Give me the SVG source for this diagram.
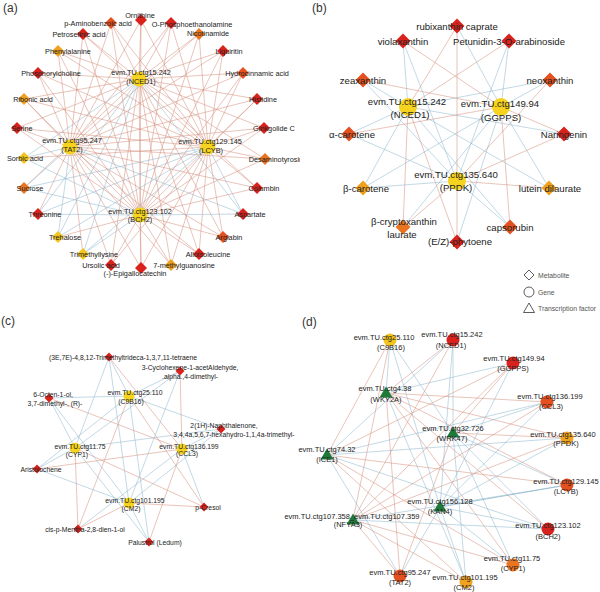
<svg xmlns="http://www.w3.org/2000/svg" width="600" height="592" viewBox="0 0 600 592">
<style>
.r{stroke:#d68f7c;stroke-width:0.7;opacity:0.75}
.b{stroke:#8db7cf;stroke-width:0.7;opacity:0.75}
text{font-family:"Liberation Sans",Arial,sans-serif;fill:#222;text-anchor:middle;dominant-baseline:central}
.ta{font-size:7.3px}.tb{font-size:9.6px}.tc{font-size:6.8px}.td{font-size:7.5px}
.pl{font-size:12px;fill:#333;text-anchor:start}
.lg{font-size:6.8px;fill:#555;text-anchor:start}
.c1{fill:#d9221c}.c2{fill:#e4501e}.c3{fill:#ea7420}.c4{fill:#f0a21f}.c5{fill:#f3c41c}.gy{fill:#f5d31e}.tf{fill:#1f7a3a}
</style>
<defs><clipPath id="clipA"><rect x="0" y="0" width="300" height="296"/></clipPath></defs>
<rect width="600" height="592" fill="#fff"/>
<text class="pl" x="3" y="8">(a)</text>
<text class="pl" x="312" y="8">(b)</text>
<text class="pl" x="1" y="321">(c)</text>
<text class="pl" x="302" y="322">(d)</text>
<g id="connectors">
<g id="edges-a">
<line class="r" x1="139" y1="79" x2="141" y2="20"/><line class="r" x1="139" y1="79" x2="111" y2="23"/><line class="r" x1="139" y1="79" x2="171" y2="23"/><line class="r" x1="139" y1="79" x2="83" y2="34"/><line class="r" x1="139" y1="79" x2="199" y2="34"/><line class="r" x1="139" y1="79" x2="58" y2="51"/><line class="r" x1="139" y1="79" x2="223" y2="51"/><line class="r" x1="139" y1="79" x2="38" y2="73"/><line class="r" x1="139" y1="79" x2="243" y2="73"/><line class="r" x1="139" y1="79" x2="24" y2="99"/><line class="r" x1="139" y1="79" x2="257" y2="99"/><line class="r" x1="139" y1="79" x2="17" y2="128"/><line class="r" x1="139" y1="79" x2="264" y2="128"/><line class="b" x1="139" y1="79" x2="24" y2="158"/><line class="r" x1="139" y1="79" x2="265" y2="159"/><line class="r" x1="139" y1="79" x2="24" y2="188"/><line class="r" x1="139" y1="79" x2="257" y2="188"/><line class="b" x1="139" y1="79" x2="38" y2="214"/><line class="b" x1="139" y1="79" x2="243" y2="214"/><line class="b" x1="139" y1="79" x2="58" y2="237"/><line class="r" x1="139" y1="79" x2="223" y2="237"/><line class="b" x1="139" y1="79" x2="83" y2="254"/><line class="r" x1="139" y1="79" x2="199" y2="254"/><line class="r" x1="139" y1="79" x2="111" y2="265"/><line class="r" x1="139" y1="79" x2="171" y2="265"/><line class="r" x1="139" y1="79" x2="141" y2="268"/>
<line class="r" x1="70" y1="147" x2="141" y2="20"/><line class="r" x1="70" y1="147" x2="111" y2="23"/><line class="r" x1="70" y1="147" x2="171" y2="23"/><line class="r" x1="70" y1="147" x2="83" y2="34"/><line class="r" x1="70" y1="147" x2="199" y2="34"/><line class="r" x1="70" y1="147" x2="58" y2="51"/><line class="r" x1="70" y1="147" x2="223" y2="51"/><line class="r" x1="70" y1="147" x2="38" y2="73"/><line class="r" x1="70" y1="147" x2="243" y2="73"/><line class="r" x1="70" y1="147" x2="24" y2="99"/><line class="r" x1="70" y1="147" x2="257" y2="99"/><line class="r" x1="70" y1="147" x2="17" y2="128"/><line class="r" x1="70" y1="147" x2="264" y2="128"/><line class="b" x1="70" y1="147" x2="24" y2="158"/><line class="r" x1="70" y1="147" x2="265" y2="159"/><line class="b" x1="70" y1="147" x2="24" y2="188"/><line class="r" x1="70" y1="147" x2="257" y2="188"/><line class="r" x1="70" y1="147" x2="38" y2="214"/><line class="b" x1="70" y1="147" x2="243" y2="214"/><line class="b" x1="70" y1="147" x2="58" y2="237"/><line class="r" x1="70" y1="147" x2="223" y2="237"/><line class="r" x1="70" y1="147" x2="83" y2="254"/><line class="r" x1="70" y1="147" x2="199" y2="254"/><line class="r" x1="70" y1="147" x2="111" y2="265"/><line class="r" x1="70" y1="147" x2="171" y2="265"/><line class="r" x1="70" y1="147" x2="141" y2="268"/>
<line class="r" x1="208" y1="147" x2="141" y2="20"/><line class="r" x1="208" y1="147" x2="111" y2="23"/><line class="r" x1="208" y1="147" x2="171" y2="23"/><line class="r" x1="208" y1="147" x2="83" y2="34"/><line class="r" x1="208" y1="147" x2="199" y2="34"/><line class="r" x1="208" y1="147" x2="58" y2="51"/><line class="r" x1="208" y1="147" x2="223" y2="51"/><line class="r" x1="208" y1="147" x2="38" y2="73"/><line class="r" x1="208" y1="147" x2="243" y2="73"/><line class="r" x1="208" y1="147" x2="24" y2="99"/><line class="r" x1="208" y1="147" x2="257" y2="99"/><line class="r" x1="208" y1="147" x2="17" y2="128"/><line class="r" x1="208" y1="147" x2="264" y2="128"/><line class="r" x1="208" y1="147" x2="24" y2="158"/><line class="r" x1="208" y1="147" x2="265" y2="159"/><line class="b" x1="208" y1="147" x2="24" y2="188"/><line class="r" x1="208" y1="147" x2="257" y2="188"/><line class="b" x1="208" y1="147" x2="38" y2="214"/><line class="b" x1="208" y1="147" x2="243" y2="214"/><line class="b" x1="208" y1="147" x2="58" y2="237"/><line class="r" x1="208" y1="147" x2="223" y2="237"/><line class="b" x1="208" y1="147" x2="83" y2="254"/><line class="r" x1="208" y1="147" x2="199" y2="254"/><line class="r" x1="208" y1="147" x2="111" y2="265"/><line class="r" x1="208" y1="147" x2="171" y2="265"/><line class="r" x1="208" y1="147" x2="141" y2="268"/>
<line class="r" x1="140" y1="215" x2="141" y2="20"/><line class="r" x1="140" y1="215" x2="111" y2="23"/><line class="r" x1="140" y1="215" x2="171" y2="23"/><line class="r" x1="140" y1="215" x2="83" y2="34"/><line class="r" x1="140" y1="215" x2="199" y2="34"/><line class="r" x1="140" y1="215" x2="58" y2="51"/><line class="r" x1="140" y1="215" x2="223" y2="51"/><line class="r" x1="140" y1="215" x2="38" y2="73"/><line class="r" x1="140" y1="215" x2="243" y2="73"/><line class="r" x1="140" y1="215" x2="24" y2="99"/><line class="r" x1="140" y1="215" x2="257" y2="99"/><line class="r" x1="140" y1="215" x2="17" y2="128"/><line class="r" x1="140" y1="215" x2="264" y2="128"/><line class="b" x1="140" y1="215" x2="24" y2="158"/><line class="r" x1="140" y1="215" x2="265" y2="159"/><line class="b" x1="140" y1="215" x2="24" y2="188"/><line class="r" x1="140" y1="215" x2="257" y2="188"/><line class="b" x1="140" y1="215" x2="38" y2="214"/><line class="b" x1="140" y1="215" x2="243" y2="214"/><line class="r" x1="140" y1="215" x2="58" y2="237"/><line class="r" x1="140" y1="215" x2="223" y2="237"/><line class="b" x1="140" y1="215" x2="83" y2="254"/><line class="r" x1="140" y1="215" x2="199" y2="254"/><line class="r" x1="140" y1="215" x2="111" y2="265"/><line class="r" x1="140" y1="215" x2="171" y2="265"/><line class="r" x1="140" y1="215" x2="141" y2="268"/>
</g>
<g id="edges-b">
<line class="r" x1="408" y1="107" x2="457" y2="26"/><line class="b" x1="408" y1="107" x2="403" y2="41"/><line class="r" x1="408" y1="107" x2="509" y2="41"/><line class="b" x1="408" y1="107" x2="363" y2="80"/><line class="b" x1="408" y1="107" x2="550" y2="80"/><line class="b" x1="408" y1="107" x2="349" y2="134"/><line class="b" x1="408" y1="107" x2="564" y2="134"/><line class="b" x1="408" y1="107" x2="363" y2="188"/><line class="b" x1="408" y1="107" x2="549" y2="188"/><line class="r" x1="408" y1="107" x2="403" y2="227"/><line class="b" x1="408" y1="107" x2="510" y2="227"/><line class="r" x1="408" y1="107" x2="457" y2="242"/>
<line class="b" x1="501" y1="107" x2="457" y2="26"/><line class="r" x1="501" y1="107" x2="403" y2="41"/><line class="b" x1="501" y1="107" x2="509" y2="41"/><line class="r" x1="501" y1="107" x2="363" y2="80"/><line class="b" x1="501" y1="107" x2="550" y2="80"/><line class="r" x1="501" y1="107" x2="349" y2="134"/><line class="r" x1="501" y1="107" x2="564" y2="134"/><line class="b" x1="501" y1="107" x2="363" y2="188"/><line class="b" x1="501" y1="107" x2="549" y2="188"/><line class="b" x1="501" y1="107" x2="403" y2="227"/><line class="r" x1="501" y1="107" x2="510" y2="227"/><line class="b" x1="501" y1="107" x2="457" y2="242"/>
<line class="r" x1="457" y1="181" x2="457" y2="26"/><line class="b" x1="457" y1="181" x2="403" y2="41"/><line class="b" x1="457" y1="181" x2="509" y2="41"/><line class="b" x1="457" y1="181" x2="363" y2="80"/><line class="r" x1="457" y1="181" x2="550" y2="80"/><line class="b" x1="457" y1="181" x2="349" y2="134"/><line class="r" x1="457" y1="181" x2="564" y2="134"/><line class="b" x1="457" y1="181" x2="363" y2="188"/><line class="r" x1="457" y1="181" x2="549" y2="188"/><line class="r" x1="457" y1="181" x2="403" y2="227"/><line class="b" x1="457" y1="181" x2="510" y2="227"/><line class="r" x1="457" y1="181" x2="457" y2="242"/>
</g>
<g id="edges-c">
<line class="b" x1="129" y1="396" x2="109" y2="357"/><line class="b" x1="129" y1="396" x2="180" y2="371"/><line class="b" x1="129" y1="396" x2="49" y2="398"/><line class="b" x1="129" y1="396" x2="221" y2="429"/><line class="b" x1="129" y1="396" x2="37" y2="469"/><line class="r" x1="129" y1="396" x2="204" y2="507"/><line class="r" x1="129" y1="396" x2="78" y2="529"/><line class="b" x1="129" y1="396" x2="149" y2="542"/>
<line class="b" x1="75" y1="448" x2="109" y2="357"/><line class="b" x1="75" y1="448" x2="180" y2="371"/><line class="b" x1="75" y1="448" x2="49" y2="398"/><line class="b" x1="75" y1="448" x2="221" y2="429"/><line class="b" x1="75" y1="448" x2="37" y2="469"/><line class="r" x1="75" y1="448" x2="204" y2="507"/><line class="r" x1="75" y1="448" x2="78" y2="529"/><line class="b" x1="75" y1="448" x2="149" y2="542"/>
<line class="r" x1="182" y1="449" x2="109" y2="357"/><line class="r" x1="182" y1="449" x2="180" y2="371"/><line class="r" x1="182" y1="449" x2="49" y2="398"/><line class="b" x1="182" y1="449" x2="221" y2="429"/><line class="r" x1="182" y1="449" x2="37" y2="469"/><line class="b" x1="182" y1="449" x2="204" y2="507"/><line class="b" x1="182" y1="449" x2="78" y2="529"/><line class="r" x1="182" y1="449" x2="149" y2="542"/>
<line class="b" x1="129" y1="503" x2="109" y2="357"/><line class="b" x1="129" y1="503" x2="180" y2="371"/><line class="b" x1="129" y1="503" x2="49" y2="398"/><line class="b" x1="129" y1="503" x2="221" y2="429"/><line class="b" x1="129" y1="503" x2="37" y2="469"/><line class="r" x1="129" y1="503" x2="204" y2="507"/><line class="r" x1="129" y1="503" x2="78" y2="529"/><line class="b" x1="129" y1="503" x2="149" y2="542"/>
</g>
<g id="edges-d">
<line class="b" x1="386" y1="393" x2="390" y2="340"/><line class="r" x1="386" y1="393" x2="453" y2="340"/><line class="b" x1="386" y1="393" x2="513" y2="363"/><line class="r" x1="386" y1="393" x2="547" y2="402"/><line class="r" x1="386" y1="393" x2="567" y2="438"/><line class="r" x1="386" y1="393" x2="567" y2="485"/><line class="r" x1="386" y1="393" x2="548" y2="529"/><line class="r" x1="386" y1="393" x2="513" y2="565"/><line class="r" x1="386" y1="393" x2="400" y2="576"/><line class="b" x1="386" y1="393" x2="466" y2="582"/>
<line class="b" x1="453" y1="433" x2="390" y2="340"/><line class="b" x1="453" y1="433" x2="453" y2="340"/><line class="r" x1="453" y1="433" x2="513" y2="363"/><line class="b" x1="453" y1="433" x2="547" y2="402"/><line class="r" x1="453" y1="433" x2="567" y2="438"/><line class="b" x1="453" y1="433" x2="567" y2="485"/><line class="b" x1="453" y1="433" x2="548" y2="529"/><line class="b" x1="453" y1="433" x2="513" y2="565"/><line class="r" x1="453" y1="433" x2="400" y2="576"/><line class="b" x1="453" y1="433" x2="466" y2="582"/>
<line class="r" x1="327" y1="455" x2="390" y2="340"/><line class="b" x1="327" y1="455" x2="453" y2="340"/><line class="r" x1="327" y1="455" x2="513" y2="363"/><line class="b" x1="327" y1="455" x2="547" y2="402"/><line class="b" x1="327" y1="455" x2="567" y2="438"/><line class="r" x1="327" y1="455" x2="567" y2="485"/><line class="b" x1="327" y1="455" x2="548" y2="529"/><line class="r" x1="327" y1="455" x2="513" y2="565"/><line class="b" x1="327" y1="455" x2="400" y2="576"/><line class="r" x1="327" y1="455" x2="466" y2="582"/>
<line class="b" x1="440" y1="507" x2="390" y2="340"/><line class="b" x1="440" y1="507" x2="453" y2="340"/><line class="b" x1="440" y1="507" x2="513" y2="363"/><line class="b" x1="440" y1="507" x2="547" y2="402"/><line class="b" x1="440" y1="507" x2="567" y2="438"/><line class="b" x1="440" y1="507" x2="567" y2="485" style="stroke:#5f94b5"/><line class="b" x1="440" y1="507" x2="548" y2="529"/><line class="b" x1="440" y1="507" x2="513" y2="565"/><line class="b" x1="440" y1="507" x2="400" y2="576"/><line class="b" x1="440" y1="507" x2="466" y2="582"/>
<line class="r" x1="353" y1="520" x2="390" y2="340"/><line class="r" x1="353" y1="520" x2="453" y2="340"/><line class="r" x1="353" y1="520" x2="513" y2="363"/><line class="r" x1="353" y1="520" x2="547" y2="402"/><line class="r" x1="353" y1="520" x2="567" y2="438"/><line class="b" x1="353" y1="520" x2="567" y2="485"/><line class="b" x1="353" y1="520" x2="548" y2="529"/><line class="r" x1="353" y1="520" x2="513" y2="565"/><line class="r" x1="353" y1="520" x2="400" y2="576"/><line class="r" x1="353" y1="520" x2="466" y2="582"/>
</g>
</g>
<g id="panel-a" clip-path="url(#clipA)">
<g id="a-ornithine"><path class="c1" d="M141 14l6 6-6 6-6-6z"/><text class="ta" x="140" y="15">Ornithine</text></g>
<g id="a-paminobenzoic"><path class="c2" d="M111 17l6 6-6 6-6-6z"/><text class="ta" x="98" y="23">p-Aminobenzoic acid</text></g>
<g id="a-ophospho"><path class="c1" d="M171 17l6 6-6 6-6-6z"/><text class="ta" x="192" y="24">O-Phosphoethanolamine</text></g>
<g id="a-petroselinic"><path class="c1" d="M83 28l6 6-6 6-6-6z"/><text class="ta" x="79" y="34">Petroselinic acid</text></g>
<g id="a-nicotinamide"><path class="c3" d="M199 28l6 6-6 6-6-6z"/><text class="ta" x="208" y="33">Nicotinamide</text></g>
<g id="a-phenylalanine"><path class="c4" d="M58 45l6 6-6 6-6-6z"/><text class="ta" x="68" y="51">Phenylalanine</text></g>
<g id="a-liquiritin"><path class="c1" d="M223 45l6 6-6 6-6-6z"/><text class="ta" x="229" y="51">Liquiritin</text></g>
<g id="a-phosphorylcholine"><path class="c1" d="M38 67l6 6-6 6-6-6z"/><text class="ta" x="51" y="73">Phosphorylcholine</text></g>
<g id="a-hydrocinnamic"><path class="c2" d="M243 67l6 6-6 6-6-6z"/><text class="ta" x="257" y="73">Hydrocinnamic acid</text></g>
<g id="a-ribonic"><path class="c4" d="M24 93l6 6-6 6-6-6z"/><text class="ta" x="33" y="99">Ribonic acid</text></g>
<g id="a-histidine"><path class="c1" d="M257 93l6 6-6 6-6-6z"/><text class="ta" x="263" y="99">Histidine</text></g>
<g id="a-serine"><path class="c1" d="M17 122l6 6-6 6-6-6z"/><text class="ta" x="22" y="128">Serine</text></g>
<g id="a-ginkgolide"><path class="c1" d="M264 122l6 6-6 6-6-6z"/><text class="ta" x="274" y="128">Ginkgolide C</text></g>
<g id="a-sorbic"><path class="c5" d="M24 152l6 6-6 6-6-6z"/><text class="ta" x="25" y="158">Sorbic acid</text></g>
<g id="a-desaminotyrosine"><path class="c3" d="M265 153l6 6-6 6-6-6z"/><text class="ta" x="278" y="159">Desaminotyrosine</text></g>
<g id="a-sucrose"><path class="c3" d="M24 182l6 6-6 6-6-6z"/><text class="ta" x="30" y="188">Sucrose</text></g>
<g id="a-columbin"><path class="c1" d="M257 182l6 6-6 6-6-6z"/><text class="ta" x="264" y="188">Columbin</text></g>
<g id="a-threonine"><path class="c1" d="M38 208l6 6-6 6-6-6z"/><text class="ta" x="45" y="214">Threonine</text></g>
<g id="a-aspartate"><path class="c1" d="M243 208l6 6-6 6-6-6z"/><text class="ta" x="250" y="214">Aspartate</text></g>
<g id="a-trehalose"><path class="c5" d="M58 231l6 6-6 6-6-6z"/><text class="ta" x="65" y="237">Trehalose</text></g>
<g id="a-arglabin"><path class="c2" d="M223 231l6 6-6 6-6-6z"/><text class="ta" x="229" y="237">Arglabin</text></g>
<g id="a-trimethyllysine"><path class="c5" d="M83 248l6 6-6 6-6-6z"/><text class="ta" x="94" y="254">Trimethyllysine</text></g>
<g id="a-alloisoleucine"><path class="c1" d="M199 248l6 6-6 6-6-6z"/><text class="ta" x="208" y="254">Alloisoleucine</text></g>
<g id="a-ursolic"><path class="c1" d="M111 259l6 6-6 6-6-6z"/><text class="ta" x="101" y="265">Ursolic acid</text></g>
<g id="a-methylguanosine"><path class="c4" d="M171 259l6 6-6 6-6-6z"/><text class="ta" x="184" y="265">7-methylguanosine</text></g>
<g id="a-epigallocatechin"><path class="c1" d="M141 262l6 6-6 6-6-6z"/><text class="ta" x="135" y="273">(-)-Epigallocatechin</text></g>
<g id="a-nced1"><circle class="gy" cx="139" cy="79" r="7.5"/><text class="ta" x="141" y="72">evm.TU.ctg15.242</text><text class="ta" x="141" y="81">(NCED1)</text></g>
<g id="a-tat2"><circle class="gy" cx="70" cy="147" r="7.5"/><text class="ta" x="72" y="140">evm.TU.ctg95.247</text><text class="ta" x="72" y="149">(TAT2)</text></g>
<g id="a-lcyb"><circle class="gy" cx="208" cy="147" r="7.5"/><text class="ta" x="210" y="141">evm.TU.ctg129.145</text><text class="ta" x="211" y="150">(LCYB)</text></g>
<g id="a-bch2"><circle class="gy" cx="140" cy="215" r="7.5"/><text class="ta" x="140" y="211">evm.TU.ctg123.102</text><text class="ta" x="140" y="219">(BCH2)</text></g>
</g>
<g id="panel-b">
<g id="b-rubixanthin"><path class="c1" d="M457 18.5l7.5 7.5-7.5 7.5-7.5-7.5z"/><text class="tb" x="457" y="26">rubixanthin caprate</text></g>
<g id="b-violaxanthin"><path class="c1" d="M403 33.5l7.5 7.5-7.5 7.5-7.5-7.5z"/><text class="tb" x="403" y="41">violaxanthin</text></g>
<g id="b-petunidin"><path class="c1" d="M509 33.5l7.5 7.5-7.5 7.5-7.5-7.5z"/><text class="tb" x="509" y="41">Petunidin-3-O-arabinoside</text></g>
<g id="b-zeaxanthin"><path class="c2" d="M363 72.5l7.5 7.5-7.5 7.5-7.5-7.5z"/><text class="tb" x="363" y="80">zeaxanthin</text></g>
<g id="b-neoxanthin"><path class="c2" d="M550 72.5l7.5 7.5-7.5 7.5-7.5-7.5z"/><text class="tb" x="550" y="80">neoxanthin</text></g>
<g id="b-acarotene"><path class="c2" d="M349 126.5l7.5 7.5-7.5 7.5-7.5-7.5z"/><text class="tb" x="352" y="134">α-carotene</text></g>
<g id="b-naringenin"><path class="c1" d="M564 126.5l7.5 7.5-7.5 7.5-7.5-7.5z"/><text class="tb" x="564" y="134">Naringenin</text></g>
<g id="b-bcarotene"><path class="c4" d="M363 180.5l7.5 7.5-7.5 7.5-7.5-7.5z"/><text class="tb" x="366" y="188">β-carotene</text></g>
<g id="b-lutein"><path class="c4" d="M549 180.5l7.5 7.5-7.5 7.5-7.5-7.5z"/><text class="tb" x="550" y="188">lutein dilaurate</text></g>
<g id="b-bcryptoxanthin"><path class="c3" d="M403 219.5l7.5 7.5-7.5 7.5-7.5-7.5z"/><text class="tb" x="404" y="221">β-cryptoxanthin</text><text class="tb" x="402" y="234">laurate</text></g>
<g id="b-capsorubin"><path class="c2" d="M510 219.5l7.5 7.5-7.5 7.5-7.5-7.5z"/><text class="tb" x="510" y="227">capsorubin</text></g>
<g id="b-phytoene"><path class="c1" d="M457 234.5l7.5 7.5-7.5 7.5-7.5-7.5z"/><text class="tb" x="460" y="241">(E/Z)-phytoene</text></g>
<g id="b-nced1"><circle class="gy" cx="408" cy="107" r="9"/><text class="tb" x="407" y="101">evm.TU.ctg15.242</text><text class="tb" x="410" y="114">(NCED1)</text></g>
<g id="b-ggpps"><circle class="gy" cx="501" cy="107" r="9"/><text class="tb" x="500" y="103">evm.TU.ctg149.94</text><text class="tb" x="501" y="117">(GGPPS)</text></g>
<g id="b-ppdk"><circle class="gy" cx="457" cy="181" r="9"/><text class="tb" x="456" y="174">evm.TU.ctg135.640</text><text class="tb" x="456" y="187">(PPDK)</text></g>
</g>
<g id="legend">
<path d="M529 270l5 5-5 5-5-5z" fill="none" stroke="#333" stroke-width="0.8"/><text class="lg" x="538" y="275">Metabolite</text>
<circle cx="529" cy="292" r="5" fill="none" stroke="#333" stroke-width="0.8"/><text class="lg" x="538" y="292">Gene</text>
<path d="M529 303l5.5 9.5h-11z" fill="none" stroke="#333" stroke-width="0.8"/><text class="lg" x="538" y="308">Transcription factor</text>
</g>
<g id="panel-c">
<g id="c-trimethyltrideca"><path class="c1" d="M109 352.5l4.5 4.5-4.5 4.5-4.5-4.5z"/><text class="tc" x="123" y="357">(3E,7E)-4,8,12-Trimethyltrideca-1,3,7,11-tetraene</text></g>
<g id="c-cyclohexene"><path class="c1" d="M180 366.5l4.5 4.5-4.5 4.5-4.5-4.5z"/><text class="tc" x="190" y="367">3-Cyclohexene-1-acetAldehyde,</text><text class="tc" x="190" y="376">.alpha.,4-dimethyl-</text></g>
<g id="c-octenol"><path class="c1" d="M49 393.5l4.5 4.5-4.5 4.5-4.5-4.5z"/><text class="tc" x="53" y="394">6-Octen-1-ol,</text><text class="tc" x="55" y="403">3,7-dimethyl-, (R)-</text></g>
<g id="c-naphthalenone"><path class="c1" d="M221 424.5l4.5 4.5-4.5 4.5-4.5-4.5z"/><text class="tc" x="224" y="425">2(1H)-Naphthalenone,</text><text class="tc" x="234" y="434">3,4,4a,5,6,7-hexahydro-1,1,4a-trimethyl-</text></g>
<g id="c-aristolochene"><path class="c1" d="M37 464.5l4.5 4.5-4.5 4.5-4.5-4.5z"/><text class="tc" x="41" y="469">Aristolochene</text></g>
<g id="c-pcresol"><path class="c1" d="M204 502.5l4.5 4.5-4.5 4.5-4.5-4.5z"/><text class="tc" x="208" y="507">p-Cresol</text></g>
<g id="c-mentha"><path class="c1" d="M78 524.5l4.5 4.5-4.5 4.5-4.5-4.5z"/><text class="tc" x="85" y="529">cis-p-Mentha-2,8-dien-1-ol</text></g>
<g id="c-palustrol"><path class="c1" d="M149 537.5l4.5 4.5-4.5 4.5-4.5-4.5z"/><text class="tc" x="155" y="542">Palustrol (Ledum)</text></g>
<g id="c-c9b16"><circle class="gy" cx="129" cy="396" r="5.5"/><text class="tc" x="135" y="392">evm.TU.ctg25.110</text><text class="tc" x="131" y="401">(C9B16)</text></g>
<g id="c-cyp1"><circle class="gy" cx="75" cy="448" r="5.5"/><text class="tc" x="80" y="446">evm.TU.ctg11.75</text><text class="tc" x="77" y="454">(CYP1)</text></g>
<g id="c-ccl3"><circle class="gy" cx="182" cy="449" r="5.5"/><text class="tc" x="189" y="446">evm.TU.ctg136.199</text><text class="tc" x="187" y="453">(CCL3)</text></g>
<g id="c-cm2"><circle class="gy" cx="129" cy="503" r="5.5"/><text class="tc" x="135" y="500">evm.TU.ctg101.195</text><text class="tc" x="131" y="508">(CM2)</text></g>
</g>
<g id="panel-d">
<g id="d-c9b16"><circle class="c5" cx="390" cy="340" r="6.5"/><text class="td" x="384" y="337">evm.TU.ctg25.110</text><text class="td" x="391" y="347">(C9B16)</text></g>
<g id="d-nced1"><circle class="c1" cx="453" cy="340" r="6.5"/><text class="td" x="452" y="334">evm.TU.ctg15.242</text><text class="td" x="451" y="345">(NCED1)</text></g>
<g id="d-ggpps"><circle class="c1" cx="513" cy="363" r="6.5"/><text class="td" x="514" y="358">evm.TU.ctg149.94</text><text class="td" x="513" y="368">(GGPPS)</text></g>
<g id="d-ccl3"><circle class="c2" cx="547" cy="402" r="6.5"/><text class="td" x="550" y="396">evm.TU.ctg136.199</text><text class="td" x="551" y="406">(CCL3)</text></g>
<g id="d-ppdk"><circle class="c4" cx="567" cy="438" r="6.5"/><text class="td" x="563" y="434">evm.TU.ctg135.640</text><text class="td" x="566" y="443">(PPDK)</text></g>
<g id="d-lcyb"><circle class="c2" cx="567" cy="485" r="6.5"/><text class="td" x="566" y="481">evm.TU.ctg129.145</text><text class="td" x="566" y="491">(LCYB)</text></g>
<g id="d-bch2"><circle class="c1" cx="548" cy="529" r="6.5"/><text class="td" x="548" y="525">evm.TU.ctg123.102</text><text class="td" x="548" y="536">(BCH2)</text></g>
<g id="d-cyp1"><circle class="c3" cx="513" cy="565" r="6.5"/><text class="td" x="512" y="558">evm.TU.ctg11.75</text><text class="td" x="513" y="568">(CYP1)</text></g>
<g id="d-tat2"><circle class="c2" cx="400" cy="576" r="6.5"/><text class="td" x="400" y="572">evm.TU.ctg95.247</text><text class="td" x="400" y="582">(TAT2)</text></g>
<g id="d-cm2"><circle class="c4" cx="466" cy="582" r="6.5"/><text class="td" x="465" y="577">evm.TU.ctg101.195</text><text class="td" x="464" y="587">(CM2)</text></g>
<g id="d-wky2a"><path class="tf" d="M386 386.5l6.5 11h-13z"/><text class="td" x="385" y="388">evm.TU.ctg4.38</text><text class="td" x="386" y="399">(WKY2A)</text></g>
<g id="d-wrk47"><path class="tf" d="M453 426.5l6.5 11h-13z"/><text class="td" x="453" y="428">evm.TU.ctg32.726</text><text class="td" x="452" y="438">(WRK47)</text></g>
<g id="d-ice1"><path class="tf" d="M327 448.5l6.5 11h-13z"/><text class="td" x="327" y="449">evm.TU.ctg74.32</text><text class="td" x="327" y="459">(ICE1)</text></g>
<g id="d-kan4"><path class="tf" d="M440 500.5l6.5 11h-13z"/><text class="td" x="440" y="501">evm.TU.ctg156.128</text><text class="td" x="440" y="511">(KAN4)</text></g>
<g id="d-nfya3"><path class="tf" d="M353 513.5l6.5 11h-13z"/><text class="td" x="352" y="516">evm.TU.ctg107.358_evm.TU.ctg107.359</text><text class="td" x="348" y="524">(NFYA3)</text></g>
</g>
</svg>
